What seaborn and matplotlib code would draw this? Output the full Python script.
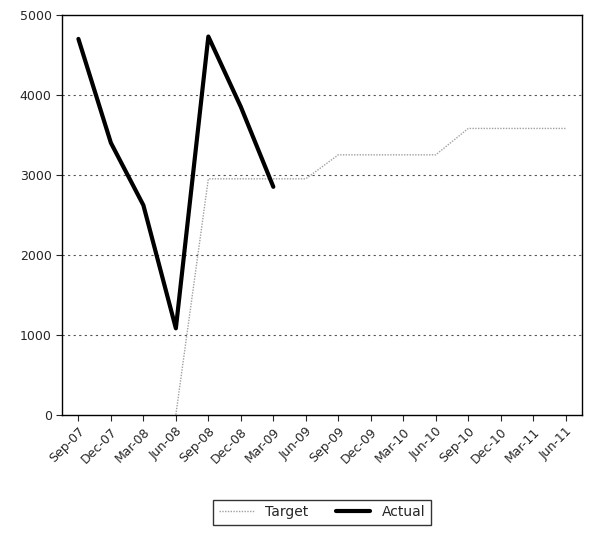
import numpy as np
import pandas as pd
import seaborn as sns
import matplotlib.pyplot as plt

quarters = ['Sep-07', 'Dec-07', 'Mar-08', 'Jun-08', 'Sep-08', 'Dec-08', 'Mar-09', 'Jun-09',
            'Sep-09', 'Dec-09', 'Mar-10', 'Jun-10', 'Sep-10', 'Dec-10', 'Mar-11', 'Jun-11']
target = [np.nan, np.nan, np.nan, 0, 2950, 2950, 2950, 2950,
          3250, 3250, 3250, 3250, 3580, 3580, 3580, 3580]
actual = [4700, 3400, 2620, 1080, 4730, 3850, 2850] + [np.nan] * 9

df = pd.DataFrame({'pos': range(len(quarters)), 'Target': target, 'Actual': actual})

sns.set_style('white')
fig = plt.figure(figsize=(5.92, 5.33), dpi=100)
ax = fig.add_axes([0.105, 0.222, 0.878, 0.75])

sns.lineplot(data=df, x='pos', y='Target', ax=ax, color='#a0a0a0', linewidth=1,
             linestyle=(0, (1, 1)), label='Target')
sns.lineplot(data=df, x='pos', y='Actual', ax=ax, color='black', linewidth=3, label='Actual')

ax.set_xlim(-0.5, 15.5)
ax.set_ylim(0, 5000)
ax.set_yticks([0, 1000, 2000, 3000, 4000, 5000])
ax.set_xticks(range(len(quarters)))
ax.set_xticklabels(quarters, rotation=45, ha='right', rotation_mode='anchor', fontsize=9)
ax.tick_params(axis='y', labelsize=9, left=True, length=4)
ax.tick_params(axis='x', bottom=True, length=4)
for y in [1000, 2000, 3000, 4000]:
    ax.axhline(y, color='#555555', linestyle=(0, (2, 3)), linewidth=0.8, zorder=0)
for s in ax.spines.values():
    s.set_color('black')
    s.set_linewidth(1)
ax.set_xlabel('')
ax.set_ylabel('')
ax.legend(loc='upper center', bbox_to_anchor=(0.5, -0.195), ncol=2, frameon=True,
          fancybox=False, edgecolor='black', fontsize=10, handlelength=2.5)

plt.savefig('out.png')
plt.close()
